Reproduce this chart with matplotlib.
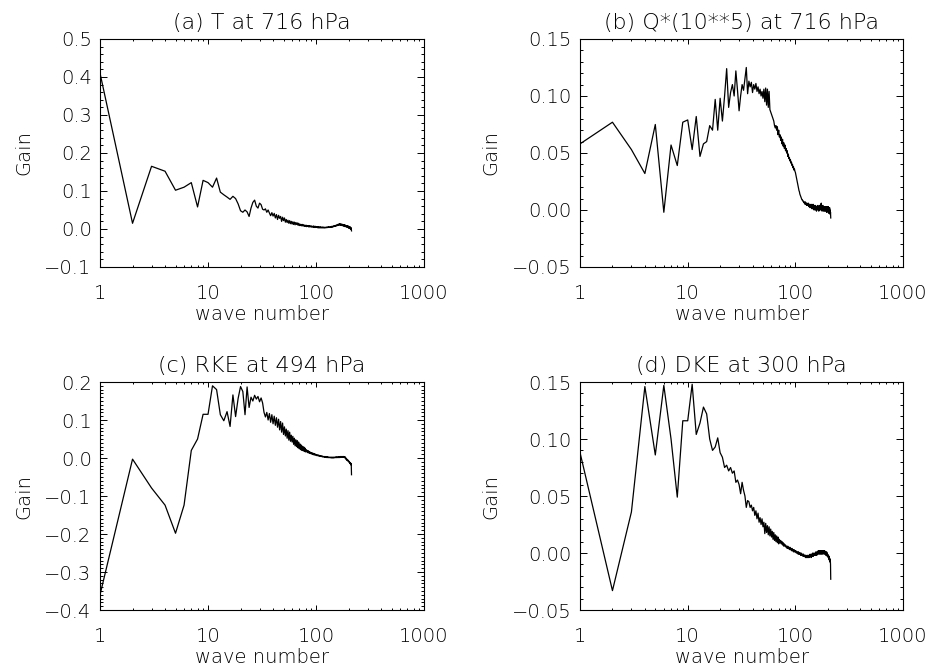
import matplotlib
matplotlib.use("Agg")
import matplotlib.pyplot as plt
from matplotlib.ticker import MultipleLocator, LogLocator, NullFormatter
import numpy as np

plt.rcParams['font.family'] = ['DejaVu Sans']
plt.rcParams['font.weight'] = 'light'
plt.rcParams['axes.titleweight'] = 'light'
plt.rcParams['axes.labelweight'] = 'light'

# wave numbers 1..213
wave = np.arange(1, 214)

# (a) T at 716 hPa
gain_t = [
    0.41, 0.015, 0.165, 0.152, 0.102, 0.11, 0.122, 0.058, 0.128, 0.122,
    0.11, 0.134, 0.097, 0.09, 0.084, 0.078, 0.086, 0.08, 0.066, 0.048,
    0.044, 0.05, 0.045, 0.033, 0.055, 0.07, 0.076, 0.06, 0.055, 0.068,
    0.064, 0.052, 0.05, 0.053, 0.044, 0.05, 0.042, 0.035, 0.043, 0.034,
    0.041, 0.029, 0.038, 0.025, 0.036, 0.028, 0.033, 0.02, 0.031, 0.022,
    0.029, 0.018, 0.025, 0.017, 0.023, 0.015, 0.022, 0.014, 0.02, 0.013,
    0.019, 0.012, 0.018, 0.011, 0.017, 0.012, 0.016, 0.01, 0.015, 0.009,
    0.013, 0.009, 0.012, 0.008, 0.012, 0.008, 0.011, 0.007, 0.01, 0.007,
    0.01, 0.006, 0.009, 0.007, 0.009, 0.005, 0.009, 0.006, 0.008, 0.005,
    0.008, 0.005, 0.007, 0.005, 0.008, 0.004, 0.007, 0.004, 0.007, 0.004,
    0.006, 0.004, 0.006, 0.003, 0.006, 0.003, 0.005, 0.003, 0.006, 0.003,
    0.005, 0.003, 0.005, 0.003, 0.005, 0.003, 0.005, 0.003, 0.004, 0.003,
    0.005, 0.003, 0.004, 0.004, 0.005, 0.003, 0.005, 0.004, 0.005, 0.004,
    0.006, 0.004, 0.005, 0.005, 0.006, 0.004, 0.006, 0.005, 0.007, 0.005,
    0.007, 0.005, 0.007, 0.006, 0.008, 0.006, 0.008, 0.007, 0.009, 0.007,
    0.009, 0.008, 0.01, 0.008, 0.01, 0.009, 0.011, 0.009, 0.012, 0.01,
    0.012, 0.01, 0.013, 0.011, 0.014, 0.011, 0.013, 0.01, 0.013, 0.011,
    0.012, 0.01, 0.013, 0.009, 0.012, 0.01, 0.011, 0.008, 0.011, 0.009,
    0.01, 0.007, 0.011, 0.008, 0.01, 0.006, 0.01, 0.007, 0.009, 0.006,
    0.009, 0.005, 0.008, 0.006, 0.009, 0.004, 0.008, 0.005, 0.007, 0.003,
    0.007, 0.002, 0.006, 0.003, 0.006, 0.001, 0.005, 0.001, 0.004, -0.001,
    0.003, -0.002, -0.005,
]

# (b) Q*(10**5) at 716 hPa
gain_q = [
    0.058, 0.077, 0.053, 0.032, 0.075, -0.002, 0.057, 0.039, 0.077, 0.079,
    0.053, 0.082, 0.047, 0.058, 0.06, 0.074, 0.07, 0.097, 0.07, 0.098,
    0.078, 0.1, 0.124, 0.09, 0.103, 0.11, 0.1, 0.122, 0.105, 0.087,
    0.1, 0.11, 0.105, 0.115, 0.125, 0.102, 0.113, 0.108, 0.112, 0.103,
    0.11, 0.106, 0.111, 0.104, 0.108, 0.102, 0.106, 0.1, 0.104, 0.098,
    0.106, 0.095, 0.107, 0.092, 0.106, 0.09, 0.104, 0.088, 0.086, 0.084,
    0.082, 0.08, 0.078, 0.074, 0.072, 0.074, 0.07, 0.073, 0.066, 0.07,
    0.064, 0.066, 0.061, 0.064, 0.058, 0.062, 0.056, 0.059, 0.054, 0.057,
    0.052, 0.054, 0.05, 0.052, 0.047, 0.049, 0.045, 0.046, 0.043, 0.044,
    0.041, 0.042, 0.039, 0.04, 0.037, 0.038, 0.035, 0.036, 0.034, 0.033,
    0.031, 0.029, 0.027, 0.025, 0.023, 0.021, 0.019, 0.017, 0.016, 0.014,
    0.013, 0.012, 0.011, 0.01, 0.009, 0.009, 0.008, 0.008, 0.007, 0.007,
    0.006, 0.007, 0.005, 0.007, 0.005, 0.006, 0.004, 0.006, 0.004, 0.005,
    0.004, 0.006, 0.003, 0.005, 0.003, 0.005, 0.002, 0.004, 0.003, 0.005,
    0.002, 0.004, 0.001, 0.004, 0.002, 0.005, 0.001, 0.003, 0.0, 0.004,
    0.001, 0.003, 0.0, 0.004, 0.001, 0.003, -0.001, 0.003, 0.0, 0.002,
    0.001, 0.004, 0.0, 0.003, -0.001, 0.002, 0.001, 0.004, 0.0, 0.003,
    0.001, 0.005, 0.0, 0.006, 0.001, 0.004, -0.001, 0.003, 0.0, 0.004,
    0.001, 0.003, -0.001, 0.002, 0.0, 0.003, -0.001, 0.002, 0.0, 0.003,
    -0.001, 0.002, 0.0, 0.003, -0.002, 0.002, -0.001, 0.003, 0.0, 0.002,
    -0.002, 0.003, -0.001, 0.002, -0.003, 0.001, -0.002, 0.002, -0.003, 0.0,
    -0.004, -0.002, -0.007,
]

# (c) RKE at 494 hPa
gain_rke = [
    -0.36, -0.003, -0.079, -0.124, -0.198, -0.124, 0.02, 0.05, 0.115, 0.115,
    0.19, 0.18, 0.114, 0.098, 0.122, 0.083, 0.166, 0.109, 0.157, 0.188,
    0.175, 0.114, 0.187, 0.133, 0.16, 0.15, 0.165, 0.155, 0.162, 0.148,
    0.158, 0.145, 0.12, 0.108, 0.12, 0.1, 0.117, 0.094, 0.114, 0.09,
    0.11, 0.086, 0.106, 0.081, 0.102, 0.074, 0.096, 0.068, 0.092, 0.062,
    0.082, 0.058, 0.076, 0.052, 0.072, 0.047, 0.068, 0.044, 0.06, 0.042,
    0.057, 0.036, 0.052, 0.032, 0.048, 0.03, 0.046, 0.027, 0.042, 0.024,
    0.037, 0.022, 0.034, 0.02, 0.031, 0.019, 0.029, 0.017, 0.026, 0.016,
    0.022, 0.016, 0.02, 0.014, 0.019, 0.013, 0.017, 0.012, 0.015, 0.011,
    0.014, 0.01, 0.013, 0.009, 0.012, 0.008, 0.011, 0.008, 0.01, 0.007,
    0.009, 0.006, 0.008, 0.006, 0.008, 0.005, 0.007, 0.005, 0.006, 0.004,
    0.006, 0.004, 0.005, 0.003, 0.005, 0.003, 0.004, 0.003, 0.004, 0.002,
    0.004, 0.002, 0.003, 0.002, 0.003, 0.001, 0.003, 0.001, 0.003, 0.001,
    0.002, 0.001, 0.002, 0.001, 0.002, 0.001, 0.002, 0.0, 0.002, 0.001,
    0.002, 0.0, 0.002, 0.001, 0.002, 0.0, 0.002, 0.001, 0.002, 0.001,
    0.002, 0.001, 0.003, 0.001, 0.002, 0.001, 0.003, 0.001, 0.002, 0.002,
    0.003, 0.001, 0.003, 0.002, 0.003, 0.001, 0.003, 0.002, 0.004, 0.002,
    0.003, 0.002, 0.004, 0.002, 0.003, 0.002, 0.004, 0.002, 0.004, 0.003,
    0.004, 0.002, 0.003, 0.001, 0.003, 0.0, 0.002, -0.002, 0.0, -0.003,
    -0.002, -0.005, -0.003, -0.006, -0.004, -0.007, -0.005, -0.008, -0.007, -0.009,
    -0.008, -0.011, -0.01, -0.012, -0.011, -0.014, -0.012, -0.016, -0.013, -0.018,
    -0.015, -0.02, -0.044,
]

# (d) DKE at 300 hPa
gain_dke = [
    0.088, -0.033, 0.036, 0.146, 0.086, 0.147, 0.1, 0.049, 0.116, 0.116,
    0.148, 0.104, 0.114, 0.128, 0.122, 0.1, 0.09, 0.093, 0.101, 0.088,
    0.084, 0.075, 0.077, 0.072, 0.075, 0.07, 0.072, 0.062, 0.064, 0.06,
    0.052, 0.062, 0.055, 0.05, 0.04, 0.046, 0.045, 0.04, 0.042, 0.037,
    0.04, 0.033, 0.037, 0.03, 0.035, 0.027, 0.031, 0.025, 0.03, 0.023,
    0.027, 0.017, 0.026, 0.018, 0.024, 0.016, 0.023, 0.015, 0.021, 0.014,
    0.019, 0.012, 0.018, 0.011, 0.016, 0.01, 0.015, 0.009, 0.014, 0.008,
    0.012, 0.009, 0.011, 0.008, 0.01, 0.007, 0.009, 0.006, 0.008, 0.006,
    0.007, 0.005, 0.006, 0.004, 0.006, 0.004, 0.005, 0.003, 0.005, 0.003,
    0.004, 0.002, 0.004, 0.002, 0.003, 0.001, 0.003, 0.001, 0.002, 0.001,
    0.002, 0.0, 0.001, 0.0, 0.001, -0.001, 0.001, -0.001, 0.0, -0.001,
    0.0, -0.002, 0.0, -0.002, -0.001, -0.002, -0.001, -0.003, -0.001, -0.003,
    -0.002, -0.003, -0.002, -0.004, -0.002, -0.004, -0.003, -0.004, -0.002, -0.004,
    -0.003, -0.004, -0.002, -0.004, -0.002, -0.003, -0.001, -0.003, -0.002, -0.004,
    -0.001, -0.003, -0.001, -0.003, 0.0, -0.003, -0.001, -0.002, 0.0, -0.002,
    -0.001, -0.002, 0.0, -0.002, 0.001, -0.001, 0.0, -0.002, 0.001, -0.001,
    0.001, -0.001, 0.002, 0.0, 0.001, -0.001, 0.002, 0.0, 0.001, -0.001,
    0.002, 0.0, 0.001, -0.001, 0.002, 0.0, 0.002, -0.001, 0.001, 0.0,
    0.002, 0.0, 0.002, -0.001, 0.001, 0.0, 0.002, -0.001, 0.001, 0.0,
    0.001, -0.002, 0.0, -0.001, 0.001, -0.002, 0.0, -0.003, -0.001, -0.002,
    -0.002, -0.004, -0.002, -0.004, -0.003, -0.006, -0.004, -0.007, -0.005, -0.008,
    -0.006, -0.01, -0.023,
]

titles = ["(a) T at 716 hPa", "(b) Q*(10**5) at 716 hPa",
          "(c) RKE at 494 hPa", "(d) DKE at 300 hPa"]

xticks = [1, 10, 100, 1000]
xtick_labels = ["1", "10", "100", "1000"]

yticks_t = [-0.1, 0.0, 0.1, 0.2, 0.3, 0.4, 0.5]
ylabels_t = ["\u22120.1", "0.0", "0.1", "0.2", "0.3", "0.4", "0.5"]
yticks_q = [-0.05, 0.0, 0.05, 0.10, 0.15]
ylabels_q = ["\u22120.05", "0.00", "0.05", "0.10", "0.15"]
yticks_rke = [-0.4, -0.3, -0.2, -0.1, 0.0, 0.1, 0.2]
ylabels_rke = ["\u22120.4", "\u22120.3", "\u22120.2", "\u22120.1", "0.0", "0.1", "0.2"]
yticks_dke = [-0.05, 0.0, 0.05, 0.10, 0.15]
ylabels_dke = ["\u22120.05", "0.00", "0.05", "0.10", "0.15"]

panels = [
    (gain_t, yticks_t, ylabels_t, 0.02),
    (gain_q, yticks_q, ylabels_q, 0.01),
    (gain_rke, yticks_rke, ylabels_rke, 0.01),
    (gain_dke, yticks_dke, ylabels_dke, 0.01),
]

fig = plt.figure(figsize=(9.33, 6.71), dpi=100)
rects = [[0.1072, 0.6021, 0.3473, 0.3398],
         [0.6217, 0.6021, 0.3462, 0.3398],
         [0.1072, 0.0909, 0.3473, 0.3398],
         [0.6217, 0.0909, 0.3462, 0.3398]]
ylab_x = [-0.207, -0.248, -0.207, -0.248]

fs = 14
for i, (vals, yt, yl, ymin) in enumerate(panels):
    ax = fig.add_axes(rects[i])
    ax.plot(wave, vals, color='black', lw=0.9)
    ax.set_xscale('log')
    ax.set_xlim(1, 1000)
    ax.set_ylim(yt[0], yt[-1])
    ax.set_xticks(xticks, xtick_labels)
    ax.xaxis.set_minor_locator(LogLocator(base=10, subs=np.arange(2, 10)))
    ax.xaxis.set_minor_formatter(NullFormatter())
    ax.set_yticks(yt, yl)
    ax.yaxis.set_minor_locator(MultipleLocator(ymin))
    ax.tick_params(axis='both', which='both', direction='in', top=True, right=True,
                   width=0.7, labelsize=fs, labelcolor='black')
    ax.tick_params(axis='x', which='major', length=3.3, pad=12)
    ax.tick_params(axis='x', which='minor', length=1.7)
    ax.tick_params(axis='y', which='major', length=4.7, pad=6)
    ax.tick_params(axis='y', which='minor', length=2.3)
    for sp in ax.spines.values():
        sp.set_linewidth(0.8)
    ax.set_title(titles[i], fontsize=fs + 2, pad=7)
    ax.set_xlabel("wave number", fontsize=fs)
    ax.xaxis.set_label_coords(0.5, -0.165)
    ax.set_ylabel("Gain", fontsize=fs)
    ax.yaxis.set_label_coords(ylab_x[i], 0.5)

fig.savefig("out.png", dpi=100)
